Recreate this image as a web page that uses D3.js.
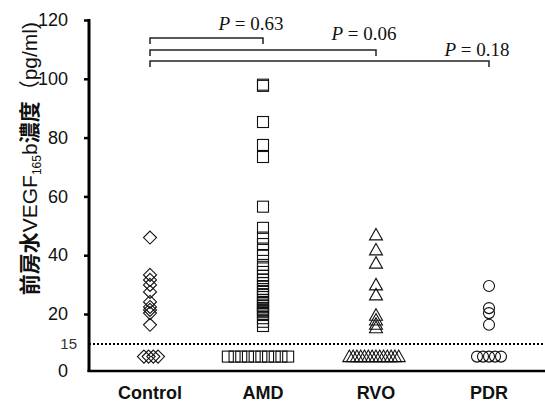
<!DOCTYPE html>
<html><head><meta charset="utf-8">
<script src="https://cdn.jsdelivr.net/npm/d3@7"></script>
<style>
html,body{margin:0;padding:0;background:#fff;}
svg{display:block;}
</style></head>
<body>
<svg id="chart" width="545" height="402"></svg>
<script>
// ---------- data ----------
const categories = ["Control", "AMD", "RVO", "PDR"];
const controlValues = [46, 33.3, 31.6, 29.9, 27.5, 24.1, 22.4, 21.4, 20.3, 18.2];
const amdValues = [98, 97.6, 85.3, 77.5, 73.4, 56.5, 49.3, 46, 43.8, 41.8, 39.8, 36.7, 35.5, 34.3, 33, 31.6, 30.5, 29.5, 28.5, 27.5, 26.5, 25.8, 24.8, 24.1, 23.2, 22.7, 21.8, 21.4, 20.6, 20, 19.3, 18.7, 18];
const rvoValues = [46.9, 41.8, 37.3, 29.9, 26.5, 19.8, 19, 18.3, 17.7];
const pdrValues = [29.5, 22, 20.3, 18.2];
const belowLimitCounts = [4, 10, 14, 5];   // samples under detection limit
const belowLimitValue = 8;                 // plotted position value for those samples
const detectionLimit = 15;
const yTickValues = [0, 15, 20, 40, 60, 80, 100, 120];
const comparisons = [
  { from: "Control", to: "AMD", label: "0.63" },
  { from: "Control", to: "RVO", label: "0.06" },
  { from: "Control", to: "PDR", label: "0.18" }
];

// ---------- layout ----------
const svg = d3.select("#chart");
const axisX = 89, baseY = 371, topY = 20, rightX = 545;
const x = d3.scalePoint().domain(categories).range([150, 489]);
const y = d3.scaleLinear().domain([0, 15, 20, 120]).range([baseY, 344, 314, topY]);
const shapes = ["diamond", "square", "triangle", "circle"];
const groupValues = [controlValues, amdValues, rvoValues, pdrValues];
const jitterStep = [4.7, 6.7, 3.8, 6];
const jitterShift = [1, -5, -2, 0];
const bracketY = [38, 50, 61];
const labelRise = [8, 10, 5];

function drawMarker(g, shape, cx, cy) {
  if (shape === "circle") {
    g.append("circle").attr("cx", cx).attr("cy", cy).attr("r", 5.5);
  } else if (shape === "square") {
    g.append("rect").attr("x", cx - 5.5).attr("y", cy - 5.5).attr("width", 11).attr("height", 11);
  } else if (shape === "diamond") {
    g.append("path").attr("d", `M${cx},${cy-6.5}L${cx+6.5},${cy}L${cx},${cy+6.5}L${cx-6.5},${cy}Z`);
  } else {
    g.append("path").attr("d", `M${cx},${cy-6.5}L${cx+6.5},${cy+5}L${cx-6.5},${cy+5}Z`);
  }
}

// dotted detection limit line
svg.append("line")
  .attr("x1", axisX).attr("x2", rightX)
  .attr("y1", y(detectionLimit)).attr("y2", y(detectionLimit))
  .attr("stroke", "#000").attr("stroke-width", 2)
  .attr("stroke-dasharray", "2,2");

// y axis
const yAxis = d3.axisLeft(y).tickValues(yTickValues).tickSize(5).tickPadding(16).tickFormat(d3.format("d"));
const ag = svg.append("g").attr("transform", `translate(${axisX},0)`).call(yAxis);
ag.select(".domain").remove();
ag.selectAll(".tick line").attr("stroke", "#000").attr("stroke-width", 2.5)
  .filter(d => d === 0 || d === 15).remove();
ag.selectAll(".tick text")
  .attr("font-family", "Liberation Sans, Arial, sans-serif")
  .attr("font-size", 18).attr("fill", "#111");
ag.selectAll(".tick text").filter(d => d === 15)
  .attr("font-size", 15).attr("x", -12).attr("fill", "#333");

svg.append("line").attr("x1", axisX).attr("x2", axisX).attr("y1", topY - 1).attr("y2", baseY + 1)
  .attr("stroke", "#000").attr("stroke-width", 3);
svg.append("line").attr("x1", axisX - 1.5).attr("x2", rightX).attr("y1", baseY).attr("y2", baseY)
  .attr("stroke", "#000").attr("stroke-width", 2.5);

// x labels
svg.append("g").selectAll("text").data(categories).join("text")
  .attr("x", d => x(d)).attr("y", 399)
  .attr("text-anchor", "middle")
  .attr("font-family", "Liberation Sans, Arial, sans-serif")
  .attr("font-weight", "bold").attr("font-size", 18).attr("fill", "#111")
  .text(d => d);

// markers
const mg = svg.append("g").attr("fill", "none").attr("stroke", "#111").attr("stroke-width", 1.1);
categories.forEach((c, i) => {
  groupValues[i].forEach(v => drawMarker(mg, shapes[i], x(c), y(v)));
  const n = belowLimitCounts[i];
  for (let k = 0; k < n; k++) {
    const cx = x(c) + jitterShift[i] + (k - (n - 1) / 2) * jitterStep[i];
    drawMarker(mg, shapes[i], cx, y(belowLimitValue));
  }
});

// comparison brackets
comparisons.forEach((cmp, i) => {
  const x1 = x(cmp.from), x2 = x(cmp.to), by = bracketY[i];
  svg.append("path")
    .attr("d", `M${x1},${by + 6}V${by}H${x2}V${by + 6}`)
    .attr("fill", "none").attr("stroke", "#222").attr("stroke-width", 1.5);
  const t = svg.append("text")
    .attr("x", x2 - 12).attr("y", by - labelRise[i])
    .attr("text-anchor", "middle")
    .attr("font-family", "Liberation Serif, Times New Roman, serif")
    .attr("font-size", 19).attr("fill", "#111");
  t.append("tspan").attr("font-style", "italic").text("P");
  t.append("tspan").text(" = " + cmp.label);
});

// y axis title
const title = svg.append("text")
  .attr("transform", `translate(37,22) rotate(-90)`)
  .attr("text-anchor", "end")
  .attr("font-family", "Liberation Sans, Arial, 'Noto Sans CJK JP', sans-serif")
  .attr("font-size", 21).attr("fill", "#111");
title.append("tspan").attr("font-family", "'Noto Sans CJK JP', sans-serif").attr("font-weight", 600).text("前房水");
title.append("tspan").text("VEGF");
title.append("tspan").attr("font-size", 12).attr("dy", 4).text("165");
title.append("tspan").attr("dy", -4).text("b");
title.append("tspan").attr("font-family", "'Noto Sans CJK JP', sans-serif").attr("font-weight", 600).text("濃度");
title.append("tspan").attr("font-family", "'Noto Sans CJK JP', sans-serif").text("（");
title.append("tspan").text("pg/ml)");
</script>
</body></html>
